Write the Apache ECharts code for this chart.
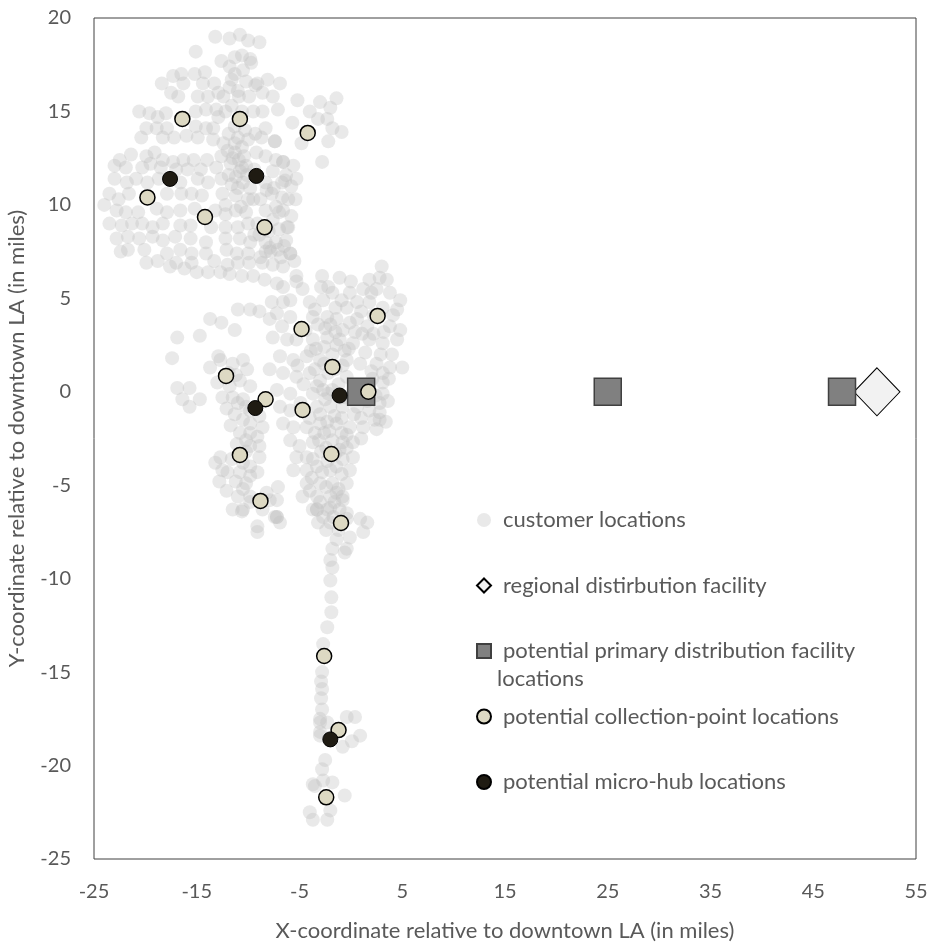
<!DOCTYPE html>
<html>
<head>
<meta charset="utf-8">
<script src="https://cdn.jsdelivr.net/npm/echarts@6/dist/echarts.min.js"></script>
<style>
html,body{margin:0;padding:0;background:#fff;}
#chart{width:932px;height:942px;}
</style>
</head>
<body>
<div id="chart"></div>
<script>
// ---- data (miles relative to downtown LA) ----
const customerLocations = [
[-13.2,19.0],[-11.8,18.9],[-10.8,19.1],[-10.0,18.8],[-8.9,18.7],
[-15.1,18.2],[-10.6,18.0],[-11.3,17.9],[-9.8,17.8],
[-12.6,17.7],[-11.8,17.4],[-9.7,17.6],[-10.5,17.2],
[-14.2,17.1],[-15.2,17.0],[-11.3,17.0],[-11.6,16.7],
[-16.5,17.0],[-17.3,16.9],[-18.4,16.5],[-16.3,16.5],[-14.4,16.5],[-13.3,16.5],[-11.8,16.3],[-9.1,16.5],[-8.1,16.7],[-6.9,16.5],[-9.3,16.4],
[-17.5,16.0],[-16.8,15.8],[-14.9,15.8],[-13.9,15.8],[-12.4,15.8],[-10.9,15.8],[-9.9,15.8],[-8.6,16.0],[-7.6,15.8],
[-20.6,15.0],[-19.6,14.9],[-18.8,14.7],[-18.0,14.9],[-15.1,15.0],[-14.1,15.1],[-13.1,15.1],[-12.2,15.0],[-9.5,15.0],[-8.6,15.0],[-7.1,15.1],
[-19.9,14.1],[-18.9,14.1],[-17.9,14.1],[-15.1,14.2],[-14.1,14.1],[-13.4,14.1],[-11.3,14.2],[-10.3,14.0],[-9.3,13.8],[-8.3,14.1],
[-20.4,13.6],[-18.3,13.6],[-17.2,13.6],[-16.0,13.7],[-14.9,13.6],[-13.4,13.5],[-12.4,13.3],[-11.3,13.3],[-10.6,13.1],[-10.0,13.5],[-8.7,13.6],[-7.4,13.4],
[-22.5,12.4],[-21.4,12.7],[-19.9,12.6],[-19.1,12.8],[-18.3,12.4],[-17.3,12.3],[-16.3,12.4],[-15.3,12.4],[-14.0,12.4],[-12.6,12.6],[-11.3,12.8],[-10.9,12.4],[-10.4,12.6],[-9.2,12.8],[-8.3,12.6],[-7.3,12.4],[-6.6,12.3],
[-23.0,12.1],[-21.9,12.0],[-20.3,12.0],[-19.5,12.2],[-18.5,12.0],[-17.0,11.9],[-15.9,11.9],[-14.6,11.9],[-13.1,12.0],[-11.7,12.2],[-10.6,12.0],[-9.4,11.9],[-7.6,11.8],[-6.3,11.6],[-5.3,11.4],
[-23.0,11.4],[-21.8,11.2],[-20.9,11.4],[-19.8,11.2],[-18.7,11.4],[-16.6,11.2],[-14.9,11.4],[-13.9,11.2],[-12.6,11.4],[-11.6,11.1],[-10.5,11.2],[-8.3,11.2],[-7.5,10.9],[-6.7,11.2],[-5.8,11.0],
[-23.5,10.6],[-22.6,10.3],[-21.6,10.6],[-17.9,10.6],[-16.5,10.6],[-15.5,10.6],[-14.5,10.5],[-12.5,10.6],[-11.2,10.5],[-10.0,10.3],[-8.8,10.3],[-7.7,10.6],[-6.7,10.4],[-5.4,10.3],
[-24.0,10.0],[-22.8,9.7],[-21.9,9.6],[-20.7,9.6],[-18.9,9.8],[-17.9,9.6],[-16.6,9.7],[-15.2,9.8],[-13.2,9.7],[-12.2,9.5],[-11.2,9.7],[-10.2,9.6],[-8.3,9.7],[-7.0,9.6],[-5.8,9.4],
[-23.5,9.0],[-22.3,8.9],[-21.3,9.0],[-20.3,9.0],[-19.3,8.8],[-18.3,9.0],[-16.6,8.9],[-15.6,8.9],[-13.6,8.8],[-12.2,8.8],[-11.0,8.8],[-10.0,9.0],[-8.0,8.6],[-7.0,8.7],[-6.2,8.8],
[-22.8,8.2],[-21.7,8.3],[-20.6,8.2],[-19.3,8.3],[-18.3,8.1],[-17.1,8.3],[-15.6,8.2],[-14.1,8.0],[-12.2,8.2],[-10.8,8.2],[-9.8,8.0],[-8.3,8.0],[-7.3,8.0],[-6.5,7.8],
[-22.4,7.5],[-21.7,7.6],[-20.1,7.6],[-17.9,7.4],[-16.6,7.6],[-15.5,7.4],[-14.1,7.4],[-12.1,7.6],[-11.1,7.4],[-10.0,7.4],[-8.8,7.2],[-7.8,7.5],[-6.8,7.2],[-5.9,7.4],
[-19.9,6.9],[-18.8,7.0],[-17.0,6.9],[-15.5,6.9],[-13.3,7.0],[-12.0,6.8],[-11.0,6.9],[-9.9,6.9],[-8.6,6.9],[-7.6,6.8],[-6.6,6.7],[-5.5,7.0],
[-17.6,6.7],[-16.2,6.6],[-15.0,6.4],[-13.9,6.4],[-12.7,6.4],[-11.8,6.3],[-10.6,6.2],[-9.5,6.2],[-8.4,6.0],[-7.2,5.8],[-5.3,6.2],
[-5.2,15.6],[-4.0,15.0],[-3.0,15.5],[-2.0,15.2],[-1.4,15.7],[-2.3,14.6],[-1.8,14.1],[-0.9,13.9],[-3.2,14.6],[-5.7,14.4],[-4.8,13.3],[-2.2,13.4],[-2.8,12.3],[-7.4,13.4],[-6.6,12.3],[-5.6,12.1],[-6.4,11.3],[-6.1,10.3],[-6.6,9.7],[-6.1,8.8],[-5.9,7.4],
[-10.8,11.8],[-11.2,11.5],[-10.1,11.6],[-11.0,10.9],[-9.8,10.9],[-8.9,8.4],[-7.6,9.2],[-7.9,7.7],
[-11.9,13.8],[-11.0,13.6],[-12.0,12.9],[-11.5,12.5],[-10.2,12.1],[-11.9,11.6],[-12.2,10.0],[-10.7,9.9],[-9.5,10.3],[-8.2,10.8],[-7.3,9.9],[-9.1,9.0],[-9.4,8.4],[-8.3,7.5],[-7.1,7.6],[-6.3,8.1],[-12.9,14.7],[-11.6,15.3],[-10.6,15.0],[-10.2,16.6],[-11.0,16.1],[-12.9,16.0],
[-16.9,2.9],[-14.7,3.0],[-17.4,1.8],[-12.9,1.9],[-13.7,1.3],[-16.9,0.2],[-15.7,0.2],[-16.4,-0.4],[-15.7,-0.8],[-14.7,-0.4],[-13.7,3.9],[-12.6,3.7],[-11.3,3.3],[-11.0,4.4],[-9.8,4.4],[-8.9,4.3],[-7.7,4.8],[-6.6,4.8],[-7.9,3.9],[-6.7,3.5],
[-12.7,1.7],[-11.5,1.5],[-10.5,1.7],[-10.1,1.2],[-13.0,0.5],[-11.8,0.3],[-10.8,0.6],[-9.8,0.3],[-12.5,-0.3],[-11.5,-0.3],[-10.5,-0.4],[-9.8,-1.0],[-8.9,-1.3],[-8.6,-1.9],[-9.8,-1.7],[-10.5,-1.5],[-10.8,-2.2],[-9.8,-2.2],[-9.1,-2.4],[-11.1,-2.8],[-9.8,-2.9],[-8.9,-2.9],[-12.7,-3.5],[-13.2,-3.8],[-12.5,-4.2],[-10.5,-3.8],[-9.8,-4.0],[-8.9,-3.5],[-10.8,-4.3],[-9.8,-4.5],[-9.1,-4.3],[-12.0,-4.3],[-12.1,-5.3],[-10.5,-5.2],[-9.8,-5.6],[-8.2,-5.4],[-7.1,-5.1],[-11.5,-6.3],[-10.5,-6.3],[-7.9,-5.8],[-7.4,-6.7],[-6.9,-7.0],[-9.1,-7.2],
[-11.9,1.0],[-11.2,0.9],[-12.1,-0.9],[-11.3,-1.2],[-10.2,-3.2],[-11.6,-3.6],
[-11.0,-0.6],[-10.2,-0.8],[-11.7,-1.8],[-10.2,-2.6],[-11.2,-4.8],[-10.2,-4.9],[-11.0,-5.6],[-12.8,-4.8],
[-10.6,-6.4],[-9.8,-5.9],[-8.6,-6.3],[-7.2,-6.7],[-9.1,-7.5],[-7.2,-5.8],
[3.0,6.7],[-2.8,6.2],[-1.1,6.1],[1.8,6.0],[3.5,6.0],[1.2,5.5],[2.5,5.5],[3.8,5.3],[4.8,4.9],
[-5.3,5.9],[-6.6,5.6],[-4.7,5.5],[-5.9,4.9],[-4.0,4.8],[-2.7,4.9],[-1.8,5.3],[-0.1,5.3],[-0.4,4.5],[0.6,4.8],[1.8,4.8],[3.1,4.5],[4.5,4.4],
[-7.2,4.2],[-5.9,4.0],[-3.7,4.0],[-2.3,4.0],[-1.4,3.9],[-0.1,3.7],[0.6,3.9],[1.6,3.5],[3.8,3.5],[4.8,3.3],
[-7.6,2.9],[-6.2,2.8],[-5.3,2.8],[-3.7,2.8],[-2.3,2.9],[-1.1,2.8],[0.2,2.6],[1.8,2.8],[3.1,2.6],[4.5,2.8],
[-6.9,1.9],[-5.6,1.7],[-4.3,1.9],[-3.0,1.7],[-0.4,1.7],[0.9,1.5],[2.5,1.5],[3.8,1.3],[5.0,1.3],
[-7.9,1.2],[-6.6,1.0],[-5.3,0.8],[-4.0,1.0],[-3.0,0.6],[-0.4,0.8],[3.1,1.0],[3.1,0.5],
[-7.2,0.1],[-5.9,-0.1],[-3.7,-0.1],[-2.7,0.1],[-1.8,0.1],[3.1,-0.1],[2.8,-0.6],
[-6.9,-0.8],[-5.9,-1.0],[-3.3,-0.8],[-2.0,-0.8],[-0.8,-0.8],[0.6,-0.8],[1.8,-1.0],[2.8,-1.1],
[-6.6,-1.7],[-5.6,-1.9],[-4.3,-1.9],[-3.0,-1.7],[-1.4,-1.7],[-0.1,-1.9],[1.2,-1.9],[2.5,-2.0],[2.8,-1.5],
[-5.9,-2.6],[-5.0,-2.9],[-3.7,-2.7],[-0.8,-2.7],[0.2,-2.7],[0.2,-3.5],[-0.8,-3.6],[-4.3,-3.5],[-5.3,-3.5],[-5.6,-4.2],
[-4.3,-4.2],[-3.3,-4.0],[-1.4,-4.0],[-0.1,-4.2],[-4.3,-4.9],[-3.0,-4.9],[-1.8,-4.9],[-0.4,-4.9],[-4.7,-5.6],[-3.3,-5.6],[-2.0,-5.6],[-0.8,-5.6],[-3.7,-6.3],[-2.3,-6.3],[-1.1,-6.3],[-0.4,-6.8],[-7.2,-6.7],
[-2.5,3.4],[-1.5,3.2],[-0.6,2.2],[-1.8,2.0],[-2.2,1.0],[-1.2,0.4],[-0.5,-0.3],[-2.5,-0.4],[-1.6,-1.3],[-2.6,-2.2],[-1.8,-2.6],[-2.9,-3.2],[-2.3,-3.7],[-1.1,-3.1],[-4.6,0.4],[-4.9,-0.6],[-4.0,-1.4],[-5.2,1.4],[-3.4,2.3],[-4.4,3.3],[-2.9,5.6],[-3.5,4.4],[0.0,5.9],[1.1,3.1],[2.2,4.1],[1.4,2.1],[2.1,0.7],[1.6,-0.5],[0.3,-1.2],[-0.4,-2.3],[1.0,-2.5],
[-3.2,3.6],[-2.0,3.6],[-0.8,3.3],[-3.9,2.2],[-2.6,2.4],[-1.4,2.5],[-0.2,2.3],[-3.5,1.2],[-2.6,1.5],[-1.5,1.2],[-0.8,1.4],[-3.3,0.3],[-2.2,-0.1],[-1.0,-0.3],[-3.0,-1.2],[-2.3,-1.6],[-0.9,-1.4],[-3.5,-2.2],[-2.1,-2.1],[-0.9,-2.2],[-3.1,-2.6],[-2.4,-3.0],[-1.5,-3.3],[-0.4,-3.0],[-3.7,-3.6],[-2.8,-4.3],[-2.0,-4.2],[-0.9,-4.4],[-3.8,-4.6],[-2.4,-5.1],[-1.2,-5.2],[-3.0,-5.9],[-1.6,-5.9],[-2.7,-6.7],[-1.7,-6.7],[-0.9,-7.1],[-2.4,-7.4],[-1.2,-7.4],
[0.4,3.2],[2.2,3.1],[3.2,3.2],[2.9,2.0],[4.0,2.0],[2.0,1.1],[3.7,0.7],[2.4,-0.2],[3.6,-0.5],[2.3,-1.5],[1.0,-1.4],[3.4,-1.6],[2.0,5.3],[2.8,6.1],[4.1,4.1],[1.0,4.3],[-0.9,4.9],[-2.2,5.6],[-1.5,4.5],
[-1.4,-5.4],[-0.8,-5.8],[-2.0,-6.2],[-3.3,-6.3],[-0.4,-6.5],[-2.0,-7.0],[0.9,-6.8],[1.2,-7.5],[1.6,-7.0],[-0.1,-7.8],[-1.4,-7.9],[-0.6,-8.6],[-0.4,-8.4],[-1.8,-8.4],[-2.0,-9.0],[-1.8,-9.4],[-2.0,-10.1],[-1.9,-11.0],[-1.9,-11.8],[-2.3,-12.6],[-2.7,-13.5],
[-4.0,-5.3],[-3.2,-7.0],[-3.3,-6.3],
[-2.8,-15.0],[-2.9,-15.5],[-2.8,-15.9],[-2.9,-16.4],[-2.8,-17.0],[-3.0,-17.5],[-3.0,-17.7],[-2.3,-17.7],[-0.4,-17.4],[0.4,-17.4],[0.9,-18.4],[0.1,-18.7],[-0.8,-19.0],[-3.0,-18.2],[-3.0,-18.4],
[-2.5,-19.7],[-2.8,-20.2],[-2.7,-20.8],[-3.5,-21.1],[-3.7,-21.0],[-1.8,-20.9],[-0.6,-21.6],[-4.0,-22.5],[-3.7,-22.9],[-2.3,-22.9],[-2.0,-22.4]
];
const regionalFacility = [[51.2, 0]];
const primaryFacilities = [[1.0, 0], [25.0, 0], [47.8, 0]];
const collectionPoints = [
[-16.4,14.6],[-10.8,14.6],[-4.2,13.85],[-19.8,10.4],[-14.2,9.35],[-8.4,8.8],
[-4.8,3.36],[2.6,4.06],[-1.8,1.33],[1.7,0.0],[-12.15,0.85],[-8.3,-0.4],
[-4.7,-0.97],[-10.8,-3.38],[-1.9,-3.33],[-8.8,-5.84],[-0.96,-7.02],
[-2.6,-14.14],[-1.2,-18.1],[-2.4,-21.7]
];
const microHubs = [[-17.6,11.39],[-9.2,11.55],[-9.3,-0.87],[-1.1,-0.2],[-2.0,-18.6]];

const xTickLabels = [-25, -15, -5, 5, 15, 25, 35, 45, 55];
const yTickLabels = [-25, -20, -15, -10, -5, 0, 5, 10, 15, 20];

const seriesNames = [
  'customer locations',
  'regional distirbution facility',
  'potential primary distribution facility',
  'potential collection-point locations',
  'potential micro-hub locations'
];
const legendSecondLine = 'locations';
const xAxisTitle = 'X-coordinate relative to downtown LA (in miles)';
const yAxisTitle = 'Y-coordinate relative to downtown LA (in miles)';

const FONT = 'Lato';
const TXT = '#595959';

const chart = echarts.init(document.getElementById('chart'), null, {renderer: 'canvas'});
chart.setOption({
  animation: false,
  backgroundColor: '#ffffff',
  textStyle: {fontFamily: FONT},
  grid: {left: 94, right: 16, top: 18, bottom: 83, containLabel: false, outerBoundsMode: 'none',
         show: true, borderColor: '#404040', borderWidth: 1, backgroundColor: 'transparent'},
  xAxis: {
    type: 'value', min: xTickLabels[0], max: xTickLabels[xTickLabels.length - 1], interval: 5,
    axisLine: {show: false}, axisTick: {show: false}, splitLine: {show: false},
    axisLabel: {color: TXT, fontSize: 20, fontFamily: FONT, margin: 23,
      formatter: function (v) { return xTickLabels.indexOf(Math.round(v)) >= 0 ? String(Math.round(v)) : ''; }},
    name: xAxisTitle, nameLocation: 'middle', nameGap: 61,
    nameTextStyle: {color: TXT, fontSize: 22, fontFamily: FONT}
  },
  yAxis: {
    type: 'value', min: yTickLabels[0], max: yTickLabels[yTickLabels.length - 1], interval: 5,
    axisLine: {show: false}, axisTick: {show: false}, splitLine: {show: false},
    axisLabel: {color: TXT, fontSize: 20, fontFamily: FONT, margin: 23},
    name: yAxisTitle, nameLocation: 'middle', nameGap: 66,
    nameTextStyle: {color: TXT, fontSize: 22, fontFamily: FONT}
  },
  legend: {
    orient: 'vertical', left: 471, top: 504, itemWidth: 14, itemHeight: 14, itemGap: 43.5,
    selectedMode: false,
    textStyle: {color: TXT, fontSize: 22, fontFamily: FONT, lineHeight: 20, padding: [0, 0, 0, 7]},
    data: [
      {name: seriesNames[0], icon: 'circle'},
      {name: seriesNames[1], icon: 'diamond'},
      {name: seriesNames[2], icon: 'rect'},
      {name: seriesNames[3], icon: 'circle'},
      {name: seriesNames[4], icon: 'circle'}
    ]
  },
  graphic: [{
    type: 'text', left: 497, top: 668,
    style: {text: legendSecondLine, fill: TXT, font: '22px ' + FONT}
  }],
  series: [
    {name: seriesNames[0], type: 'scatter', data: customerLocations, symbol: 'circle', symbolSize: 14, silent: true,
     itemStyle: {color: 'rgba(191,191,191,0.35)', opacity: 1}, z: 1},
    {name: seriesNames[1], type: 'scatter', data: regionalFacility, symbol: 'diamond', symbolSize: [46, 48], silent: true,
     itemStyle: {color: '#f2f2f2', borderColor: '#000000', borderWidth: 1, opacity: 1}, z: 2},
    {name: seriesNames[2], type: 'scatter', data: primaryFacilities, symbol: 'rect', symbolSize: 27, silent: true,
     itemStyle: {color: '#808080', borderColor: '#404040', borderWidth: 1.5, opacity: 1}, z: 3},
    {name: seriesNames[3], type: 'scatter', data: collectionPoints, symbol: 'circle', symbolSize: 15, silent: true,
     itemStyle: {color: '#ddd9c3', borderColor: '#000000', borderWidth: 1.5, opacity: 1}, z: 4},
    {name: seriesNames[4], type: 'scatter', data: microHubs, symbol: 'circle', symbolSize: 15, silent: true,
     itemStyle: {color: '#1f1b12', borderColor: '#000000', borderWidth: 1, opacity: 1}, z: 5}
  ]
});
</script>
</body>
</html>
